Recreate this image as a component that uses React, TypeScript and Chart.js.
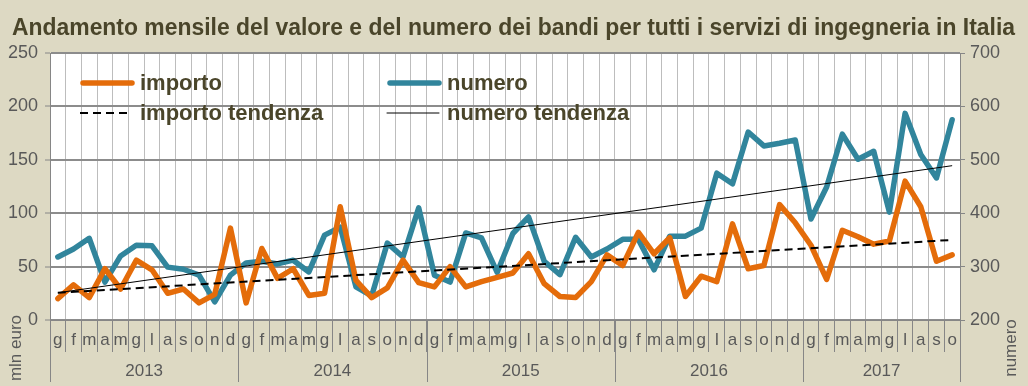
import React, { useEffect, useRef } from 'react';
import { Chart, registerables } from 'chart.js';
Chart.register(...registerables);

// ---- data ----
const monthLetters = ['g', 'f', 'm', 'a', 'm', 'g', 'l', 'a', 's', 'o', 'n', 'd'];
const years = ['2013', '2014', '2015', '2016', '2017'];
const monthsPerYear = [12, 12, 12, 12, 10];

const importo = [
  20, 33, 21, 48, 29, 56, 47, 25, 29, 16, 24, 86,
  16, 67, 39, 48, 23, 25, 106, 37, 21, 30, 56, 35,
  31, 50, 31, 36, 40, 44, 62, 34, 22, 21, 36, 61,
  51, 82, 62, 77, 22, 41, 36, 90, 48, 51, 108, 91,
  70, 38, 84, 78, 71, 74, 130, 106, 55, 61,
];
const numero = [
  318, 333, 353, 271, 320, 340, 339, 299, 295, 284, 234, 284,
  307, 310, 305, 312, 290, 359, 374, 262, 245, 344, 318, 410,
  284, 271, 363, 354, 289, 362, 393, 310, 285, 355, 318, 333,
  351, 351, 294, 357, 357, 372, 475, 455, 552, 526, 531, 537,
  389, 449, 548, 501, 516, 402, 587, 510, 466, 575,
];
// trend lines: values at first and last month
const importoTrendEnds = [25.5, 75];
const numeroTrendEnds = [251, 489];

const leftTicks = { min: 0, max: 250, step: 50 };
const rightTicks = { min: 200, max: 700, step: 100 };

const titleText = 'Andamento mensile del valore e del numero dei bandi per tutti i servizi di ingegneria in Italia';
const seriesLabels = ['importo', 'numero', 'importo tendenza', 'numero tendenza'];
const leftAxisTitle = 'mln euro';
const rightAxisTitle = 'numero';

// ---- styles ----
const ORANGE = '#E46C0A';
const BLUE = '#31859C';
const BG = '#DDD9C3';
const DARK = '#4A452A';
const TICK = '#595959';
const AXIS = '#868686';
const FONT = '"Liberation Sans", Arial, sans-serif';

const labels: string[] = [];
monthsPerYear.forEach((n) => {
  for (let i = 0; i < n; i++) labels.push(monthLetters[i]);
});
const N = labels.length;
const trendData = (ends: number[]) => labels.map((_, i) => (i === 0 ? ends[0] : i === N - 1 ? ends[1] : null));

const decorPlugin = {
  id: 'decor',
  beforeDraw(chart: any) {
    const { ctx, chartArea: a, width, height } = chart;
    ctx.save();
    ctx.fillStyle = BG;
    ctx.fillRect(0, 0, width, height);
    ctx.fillStyle = '#FFFFFF';
    ctx.fillRect(a.left, a.top, a.right - a.left, a.bottom - a.top);
    ctx.restore();
  },
  afterDraw(chart: any) {
    const { ctx, chartArea: a } = chart;
    const x = chart.scales.x;
    ctx.save();
    // title
    ctx.font = `bold 23px ${FONT}`;
    ctx.fillStyle = DARK;
    ctx.textBaseline = 'alphabetic';
    const w = ctx.measureText(titleText).width;
    const target = 1003;
    const sx = Math.min(1, target / w);
    ctx.save();
    ctx.translate(12, 35);
    ctx.scale(sx, 1);
    ctx.fillText(titleText, 0, 0);
    ctx.restore();

    // year labels and separators
    const cw = x.getPixelForValue(1) - x.getPixelForValue(0);
    let start = 0;
    ctx.strokeStyle = AXIS;
    ctx.lineWidth = 1;
    ctx.font = `17px ${FONT}`;
    ctx.fillStyle = TICK;
    ctx.textAlign = 'center';
    ctx.textBaseline = 'middle';
    monthsPerYear.forEach((n, yi) => {
      const x0 = x.getPixelForValue(start) - cw / 2;
      const x1 = x.getPixelForValue(start + n - 1) + cw / 2;
      ctx.beginPath();
      ctx.moveTo(Math.round(x0) + 0.5, a.bottom);
      ctx.lineTo(Math.round(x0) + 0.5, a.bottom + 62);
      if (yi === monthsPerYear.length - 1) {
        ctx.moveTo(Math.round(x1) + 0.5, a.bottom);
        ctx.lineTo(Math.round(x1) + 0.5, a.bottom + 62);
      }
      ctx.stroke();
      ctx.fillText(years[yi], (x0 + x1) / 2, a.bottom + 51);
      start += n;
    });

    // axis titles
    ctx.font = `17px ${FONT}`;
    ctx.fillStyle = TICK;
    ctx.save();
    ctx.translate(16, 348);
    ctx.rotate(-Math.PI / 2);
    ctx.fillText(leftAxisTitle, 0, 0);
    ctx.restore();
    ctx.save();
    ctx.translate(1011, 348);
    ctx.rotate(-Math.PI / 2);
    ctx.fillText(rightAxisTitle, 0, 0);
    ctx.restore();

    // legend
    const pos = [
      [80, 83],
      [387, 83],
      [80, 113],
      [387, 113],
    ];
    chart.data.datasets.forEach((ds: any, i: number) => {
      const [lx, ly] = pos[i];
      ctx.save();
      ctx.strokeStyle = ds.borderColor;
      ctx.lineWidth = ds.borderWidth;
      ctx.lineCap = ds.borderDash && ds.borderDash.length ? 'butt' : 'round';
      ctx.setLineDash(ds.borderDash || []);
      ctx.beginPath();
      ctx.moveTo(lx + (ds.borderWidth > 3 ? 3 : 0), ly);
      ctx.lineTo(lx + 52, ly);
      ctx.stroke();
      ctx.restore();
      ctx.font = `bold 22px ${FONT}`;
      ctx.fillStyle = DARK;
      ctx.textAlign = 'left';
      ctx.textBaseline = 'alphabetic';
      ctx.fillText(ds.label, lx + 60, ly + 7);
    });
    ctx.restore();
  },
};

export default function App() {
  const ref = useRef<HTMLCanvasElement | null>(null);
  useEffect(() => {
    if (!ref.current) return;
    const chart = new Chart(ref.current, {
      type: 'line',
      data: {
        labels,
        datasets: [
          {
            label: seriesLabels[0],
            data: importo,
            borderColor: ORANGE,
            borderWidth: 5.5,
            yAxisID: 'y',
            order: 2,
            pointRadius: 0,
            borderJoinStyle: 'round',
            borderCapStyle: 'round',
            tension: 0,
          },
          {
            label: seriesLabels[1],
            data: numero,
            borderColor: BLUE,
            borderWidth: 5.5,
            yAxisID: 'y1',
            order: 3,
            pointRadius: 0,
            borderJoinStyle: 'round',
            borderCapStyle: 'round',
            tension: 0,
          },
          {
            label: seriesLabels[2],
            data: trendData(importoTrendEnds),
            borderColor: '#000000',
            borderWidth: 2,
            borderDash: [8, 5],
            yAxisID: 'y',
            order: 0,
            pointRadius: 0,
            spanGaps: true,
          },
          {
            label: seriesLabels[3],
            data: trendData(numeroTrendEnds),
            borderColor: '#000000',
            borderWidth: 1,
            yAxisID: 'y1',
            order: 1,
            pointRadius: 0,
            spanGaps: true,
          },
        ] as any,
      },
      options: {
        animation: false,
        responsive: false,
        devicePixelRatio: 1,
        layout: { padding: { top: 53, left: 0, right: 0, bottom: 0 } },
        plugins: { legend: { display: false }, tooltip: { enabled: false }, title: { display: false } },
        scales: {
          x: {
            type: 'category',
            offset: true,
            grid: {
              offset: true,
              color: '#BDBDBD',
              lineWidth: 1,
              borderDash: [1, 2],
              drawTicks: true,
              tickLength: 32,
              tickColor: AXIS,
              tickBorderDash: [],
            } as any,
            border: { display: true, color: AXIS, width: 1 },
            ticks: {
              autoSkip: false,
              maxRotation: 0,
              minRotation: 0,
              padding: -22,
              color: TICK,
              font: { family: FONT, size: 17 },
            },
            afterFit: (s: any) => {
              s.height = 66;
            },
          },
          y: {
            type: 'linear',
            position: 'left',
            min: leftTicks.min,
            max: leftTicks.max,
            ticks: {
              stepSize: leftTicks.step,
              padding: 7,
              color: TICK,
              font: { family: FONT, size: 18 },
            },
            grid: {
              color: '#8C8C8C',
              lineWidth: 2,
              borderDash: [2, 2],
              tickLength: 5,
              tickColor: AXIS,
              tickBorderDash: [],
              tickWidth: 1,
            } as any,
            border: { display: true, color: AXIS, width: 1 },
            afterFit: (s: any) => {
              s.width = 50;
            },
          },
          y1: {
            type: 'linear',
            position: 'right',
            min: rightTicks.min,
            max: rightTicks.max,
            ticks: {
              stepSize: rightTicks.step,
              padding: 5,
              color: TICK,
              font: { family: FONT, size: 18 },
            },
            grid: {
              drawOnChartArea: false,
              tickLength: 5,
              tickColor: AXIS,
            },
            border: { display: true, color: AXIS, width: 1 },
            afterFit: (s: any) => {
              s.width = 68;
            },
          },
        },
      } as any,
      plugins: [decorPlugin],
    });
    return () => chart.destroy();
  }, []);
  return (
    <div style={{ position: 'absolute', left: 0, top: 0, width: 1028, height: 386 }}>
      <canvas ref={ref} width={1028} height={386} style={{ width: 1028, height: 386, display: 'block' }} />
    </div>
  );
}
